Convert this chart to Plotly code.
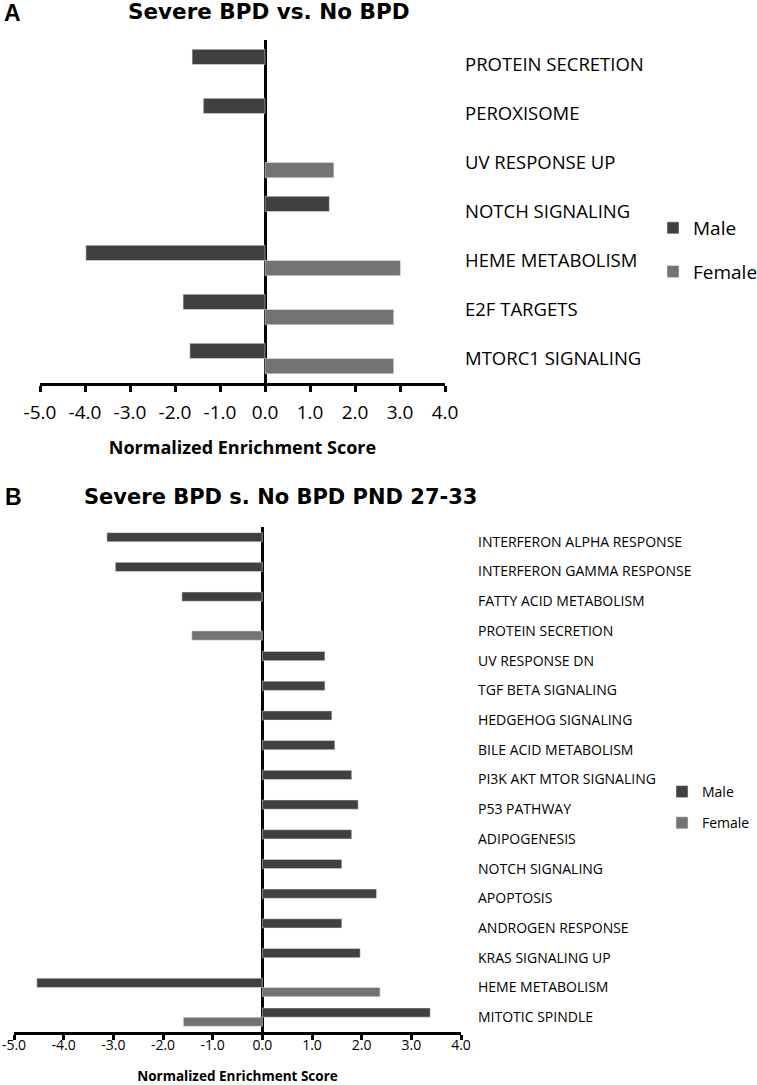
import plotly.graph_objects as go

# ---------------- Data ----------------
cats_a = ["PROTEIN SECRETION", "PEROXISOME", "UV RESPONSE UP", "NOTCH SIGNALING",
          "HEME METABOLISM", "E2F TARGETS", "MTORC1 SIGNALING"]
male_a = [-1.62, -1.37, None, 1.43, -3.98, -1.82, -1.67]
female_a = [None, None, 1.53, None, 3.01, 2.86, 2.86]

cats_b = ["INTERFERON ALPHA RESPONSE", "INTERFERON GAMMA RESPONSE", "FATTY ACID METABOLISM",
          "PROTEIN SECRETION", "UV RESPONSE DN", "TGF BETA SIGNALING", "HEDGEHOG SIGNALING",
          "BILE ACID METABOLISM", "PI3K AKT MTOR SIGNALING", "P53 PATHWAY", "ADIPOGENESIS",
          "NOTCH SIGNALING", "APOPTOSIS", "ANDROGEN RESPONSE", "KRAS SIGNALING UP",
          "HEME METABOLISM", "MITOTIC SPINDLE"]
male_b = [-3.13, -2.96, -1.62, None, 1.26, 1.26, 1.40, 1.46, 1.80, 1.93, 1.80,
          1.60, 2.30, 1.60, 1.97, -4.54, 3.38]
female_b = [None, None, None, -1.42, None, None, None, None, None, None, None,
            None, None, None, None, 2.37, -1.59]

tick_vals = [-5, -4, -3, -2, -1, 0, 1, 2, 3, 4]
tick_text = ["-5.0", "-4.0", "-3.0", "-2.0", "-1.0", "0.0", "1.0", "2.0", "3.0", "4.0"]

MALE = "#404040"
FEMALE = "#737373"
W, H = 757, 1085
FONT = "Open Sans"

fig = go.Figure()
fig.add_trace(go.Bar(y=cats_a, x=male_a, orientation="h", name="Male", marker_color=MALE,
                     xaxis="x", yaxis="y", legend="legend", legendgroup="m"))
fig.add_trace(go.Bar(y=cats_a, x=female_a, orientation="h", name="Female", marker_color=FEMALE,
                     xaxis="x", yaxis="y", legend="legend", legendgroup="f"))
fig.add_trace(go.Bar(y=cats_b, x=male_b, orientation="h", name="Male", marker_color=MALE,
                     xaxis="x2", yaxis="y2", legend="legend2", legendgroup="m2"))
fig.add_trace(go.Bar(y=cats_b, x=female_b, orientation="h", name="Female", marker_color=FEMALE,
                     xaxis="x2", yaxis="y2", legend="legend2", legendgroup="f2"))

def px_x(p):
    return p / W

def px_y(p):
    return 1 - p / H

xcommon = dict(range=[-5, 4], tickvals=tick_vals, ticktext=tick_text, showgrid=False,
               showline=True, linecolor="black", linewidth=2.5, ticks="outside",
               tickcolor="black", tickwidth=2.5, zeroline=True, zerolinecolor="black",
               zerolinewidth=2.5, fixedrange=True, automargin=False)
ycommon = dict(type="category", autorange="reversed", side="right", showgrid=False,
               showline=False, ticks="", zeroline=False, automargin=False, fixedrange=True)

fig.update_layout(
    width=W, height=H, autosize=False,
    margin=dict(l=0, r=0, t=0, b=0, pad=0, autoexpand=False),
    plot_bgcolor="white", paper_bgcolor="white",
    barmode="group", bargap=0.38, bargroupgap=0,
    xaxis=dict(**xcommon, domain=[px_x(40), px_x(445)], anchor="y", ticklen=6,
               tickfont=dict(family=FONT, size=19, color="black"), ticklabelstandoff=4,
               title=dict(text="<b>Normalized Enrichment Score</b>", standoff=18,
                          font=dict(family=FONT, size=18, color="black"))),
    yaxis=dict(**ycommon, domain=[px_y(383), px_y(40)], anchor="x",
               tickfont=dict(family=FONT, size=18.5, color="black"), ticklabelstandoff=19),
    xaxis2=dict(**xcommon, domain=[px_x(14), px_x(461)], anchor="y2", ticklen=5,
                tickfont=dict(family=FONT, size=14, color="black"), ticklabelstandoff=-7,
                title=dict(text="<b>Normalized Enrichment Score</b>", standoff=30,
                           font=dict(family=FONT, size=13.5, color="black"))),
    yaxis2=dict(**ycommon, domain=[px_y(1032), px_y(527)], anchor="x2",
                tickfont=dict(family=FONT, size=14, color="black"), ticklabelstandoff=16),
    legend=dict(x=px_x(653), y=px_y(209), xanchor="left", yanchor="top",
                font=dict(family=FONT, size=19, color="black"), tracegroupgap=16,
                bgcolor="rgba(0,0,0,0)"),
    legend2=dict(x=px_x(662), y=px_y(776), xanchor="left", yanchor="top",
                 font=dict(family=FONT, size=14, color="black"), tracegroupgap=10,
                 bgcolor="rgba(0,0,0,0)"),
    showlegend=True,
)

fig.add_annotation(text="<b>A</b>", x=px_x(2), y=px_y(13), xref="paper", yref="paper",
                   xanchor="left", yanchor="middle", showarrow=False,
                   font=dict(family="Liberation Sans", size=23, color="black"))
fig.add_annotation(text="<b>Severe BPD vs. No BPD</b>", x=px_x(268.5), y=px_y(12),
                   xref="paper", yref="paper", xanchor="center", yanchor="middle",
                   showarrow=False, font=dict(family="DejaVu Sans", size=21.5, color="black"))
fig.add_annotation(text="<b>B</b>", x=px_x(3), y=px_y(497), xref="paper", yref="paper",
                   xanchor="left", yanchor="middle", showarrow=False,
                   font=dict(family="Liberation Sans", size=23, color="black"))
fig.add_annotation(text="<b>Severe BPD s. No BPD PND 27-33</b>", x=px_x(82), y=px_y(497),
                   xref="paper", yref="paper", xanchor="left", yanchor="middle",
                   showarrow=False, font=dict(family="DejaVu Sans", size=21, color="black"))

fig.write_html("out.html", config={"displayModeBar": False},
               post_script="document.body.style.margin='0';document.body.style.overflow='hidden';")
